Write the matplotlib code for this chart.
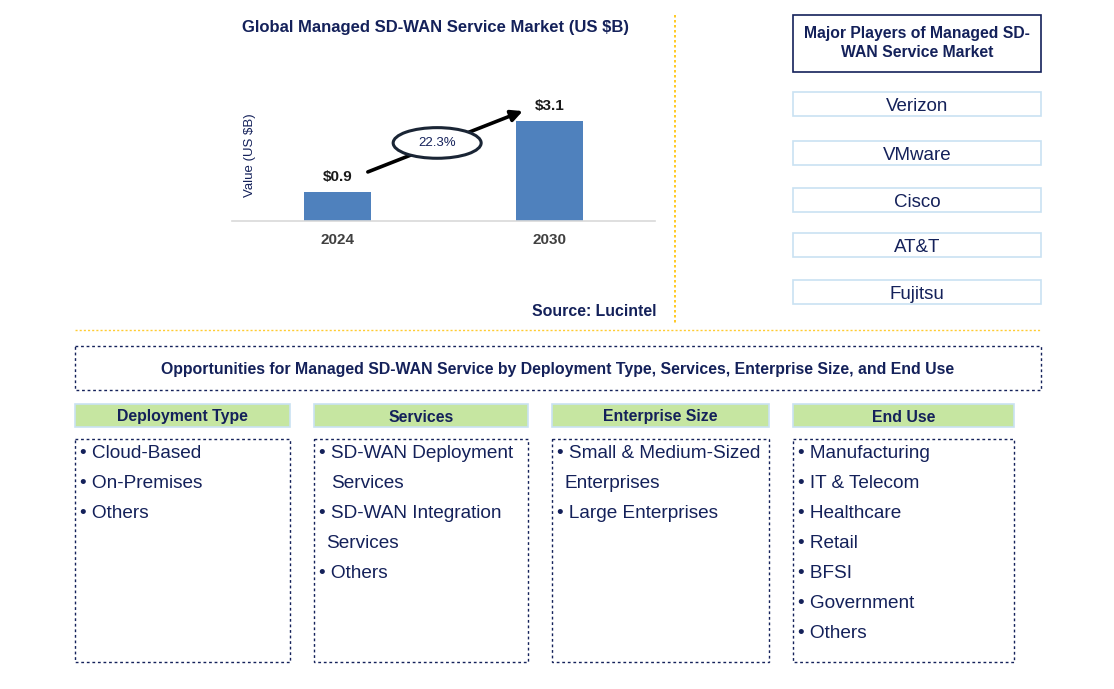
import matplotlib
matplotlib.use("Agg")
import matplotlib.pyplot as plt
from matplotlib.patches import Rectangle, Ellipse

plt.rcParams['font.family'] = ['Liberation Sans', 'DejaVu Sans']

# ---- data ----
years = ["2024", "2030"]
values = [0.9, 3.1]
value_labels = ["$0.9", "$3.1"]
cagr_label = "22.3%"
chart_title = "Global Managed SD-WAN Service Market (US $B)"
y_label = "Value (US $B)"
source = "Source: Lucintel"

players_title = "Major Players of Managed SD-\nWAN Service Market"
players = ["Verizon", "VMware", "Cisco", "AT&T", "Fujitsu"]

opp_title = "Opportunities for Managed SD-WAN Service by Deployment Type, Services, Enterprise Size, and End Use"
categories = ["Deployment Type", "Services", "Enterprise Size", "End Use"]
deployment_items = [("• Cloud-Based", 0), ("• On-Premises", 0), ("• Others", 0)]
services_items = [("• SD-WAN Deployment", 0), ("Services", 12), ("• SD-WAN Integration", 0),
                  ("Services", 7), ("• Others", 0)]
enterprise_items = [("• Small & Medium-Sized", 0), ("Enterprises", 7), ("• Large Enterprises", 0)]
enduse_items = [("• Manufacturing", 0), ("• IT & Telecom", 0), ("• Healthcare", 0), ("• Retail", 0),
                ("• BFSI", 0), ("• Government", 0), ("• Others", 0)]
category_items = [deployment_items, services_items, enterprise_items, enduse_items]

# ---- style ----
NAVY = "#14215A"
BAR = "#4F81BD"
GOLD = "#FFC000"
GREEN = "#C6E6A1"
LIGHTBLUE = "#C9E2F2"

W, H = 1114, 689
fig = plt.figure(figsize=(W / 100, H / 100), dpi=100)

# ---- bar chart ----
ax = fig.add_axes([232 / W, 1 - 221 / H, 423 / W, 161.25 / H])
xs = list(range(len(years)))
ax.bar(xs, values, width=0.317, color=BAR, zorder=2)
ax.set_xlim(-0.5, 1.5)
ax.set_ylim(0, 5)
ax.set_yticks([])
ax.set_xticks(xs)
ax.set_xticklabels(years, fontsize=11, fontweight='bold', color='#404040')
ax.tick_params(axis='x', length=0, pad=9)
for s in ['top', 'right', 'left']:
    ax.spines[s].set_visible(False)
ax.spines['bottom'].set_color('#D9D9D9')
ax.spines['bottom'].set_linewidth(1.2)
ax.patch.set_visible(False)
for x, v, lab in zip(xs, values, value_labels):
    ax.annotate(lab, xy=(x, v), xytext=(0, 11), textcoords='offset points',
                ha='center', va='center', fontsize=11, fontweight='bold', color='#1a1a1a')
ax.annotate("", xy=(xs[1] - 0.113, values[1] + 0.34), xytext=(xs[0] + 0.13, values[0] + 0.59),
            arrowprops=dict(arrowstyle='-|>', color='black', lw=2.6, mutation_scale=17),
            annotation_clip=False)
ell = Ellipse((0.47, 2.42), 0.416, 0.95, facecolor='white', edgecolor='#1a2535', lw=2.2,
              clip_on=False, zorder=5)
ax.add_patch(ell)
ax.text(0.47, 2.42, cagr_label, ha='center', va='center', fontsize=9.5, color=NAVY, zorder=6)

# ---- overlay ----
ov = fig.add_axes([0, 0, 1, 1])
ov.set_xlim(0, W)
ov.set_ylim(H, 0)
ov.axis('off')
ov.patch.set_visible(False)

ov.text(435, 26, chart_title, ha='center', va='center_baseline', fontsize=12, fontweight='bold', color=NAVY)
ov.text(250, 155, y_label, ha='center', va='center', rotation=90, fontsize=9.5, color=NAVY)
ov.text(656, 310, source, ha='right', va='center_baseline', fontsize=11.4, fontweight='bold', color=NAVY)

# dividers
ov.plot([675, 675], [15, 325], color=GOLD, lw=1.2, ls=(0, (1.5, 1.5)))
ov.plot([75, 1041], [330, 330], color=GOLD, lw=1.0, ls=(0, (1.5, 1.5)), alpha=0.8)

# players panel
ov.add_patch(Rectangle((793, 15), 248, 57, fill=False, edgecolor=NAVY, lw=1.2))
ov.text(917, 43, players_title, ha='center', va='center', fontsize=11.3, fontweight='bold',
        color=NAVY, linespacing=1.35)
player_tops = [92, 141, 188, 233, 280]
for top, name in zip(player_tops, players):
    ov.add_patch(Rectangle((793, top), 248, 24, fill=False, edgecolor=LIGHTBLUE, lw=1.2))
    ov.text(917, top + 12.5, name, ha='center', va='center_baseline', fontsize=13.5, color=NAVY)

# opportunities
ov.add_patch(Rectangle((75, 346), 966, 44, fill=False, edgecolor=NAVY, lw=1.0, ls=(0, (2, 2))))
ov.text(558, 368, opp_title, ha='center', va='center_baseline', fontsize=11.4, fontweight='bold', color=NAVY)

col_x = [(75, 290), (314, 528), (552, 769), (793, 1014)]
for (x0, x1), cat, items in zip(col_x, categories, category_items):
    ov.add_patch(Rectangle((x0, 404), x1 - x0, 23, facecolor=GREEN, edgecolor=LIGHTBLUE, lw=1.2))
    ov.text((x0 + x1) / 2, 415.5, cat, ha='center', va='center_baseline', fontsize=11.4,
            fontweight='bold', color=NAVY)
    ov.add_patch(Rectangle((x0, 439), x1 - x0, 223, fill=False, edgecolor=NAVY, lw=1.0,
                           ls=(0, (2, 2))))
    for i, (txt, indent) in enumerate(items):
        ov.text(x0 + 5 + indent, 452 + 30 * i, txt, ha='left', va='center_baseline', fontsize=13.7,
                color=NAVY)

fig.savefig("out.png", dpi=100)
